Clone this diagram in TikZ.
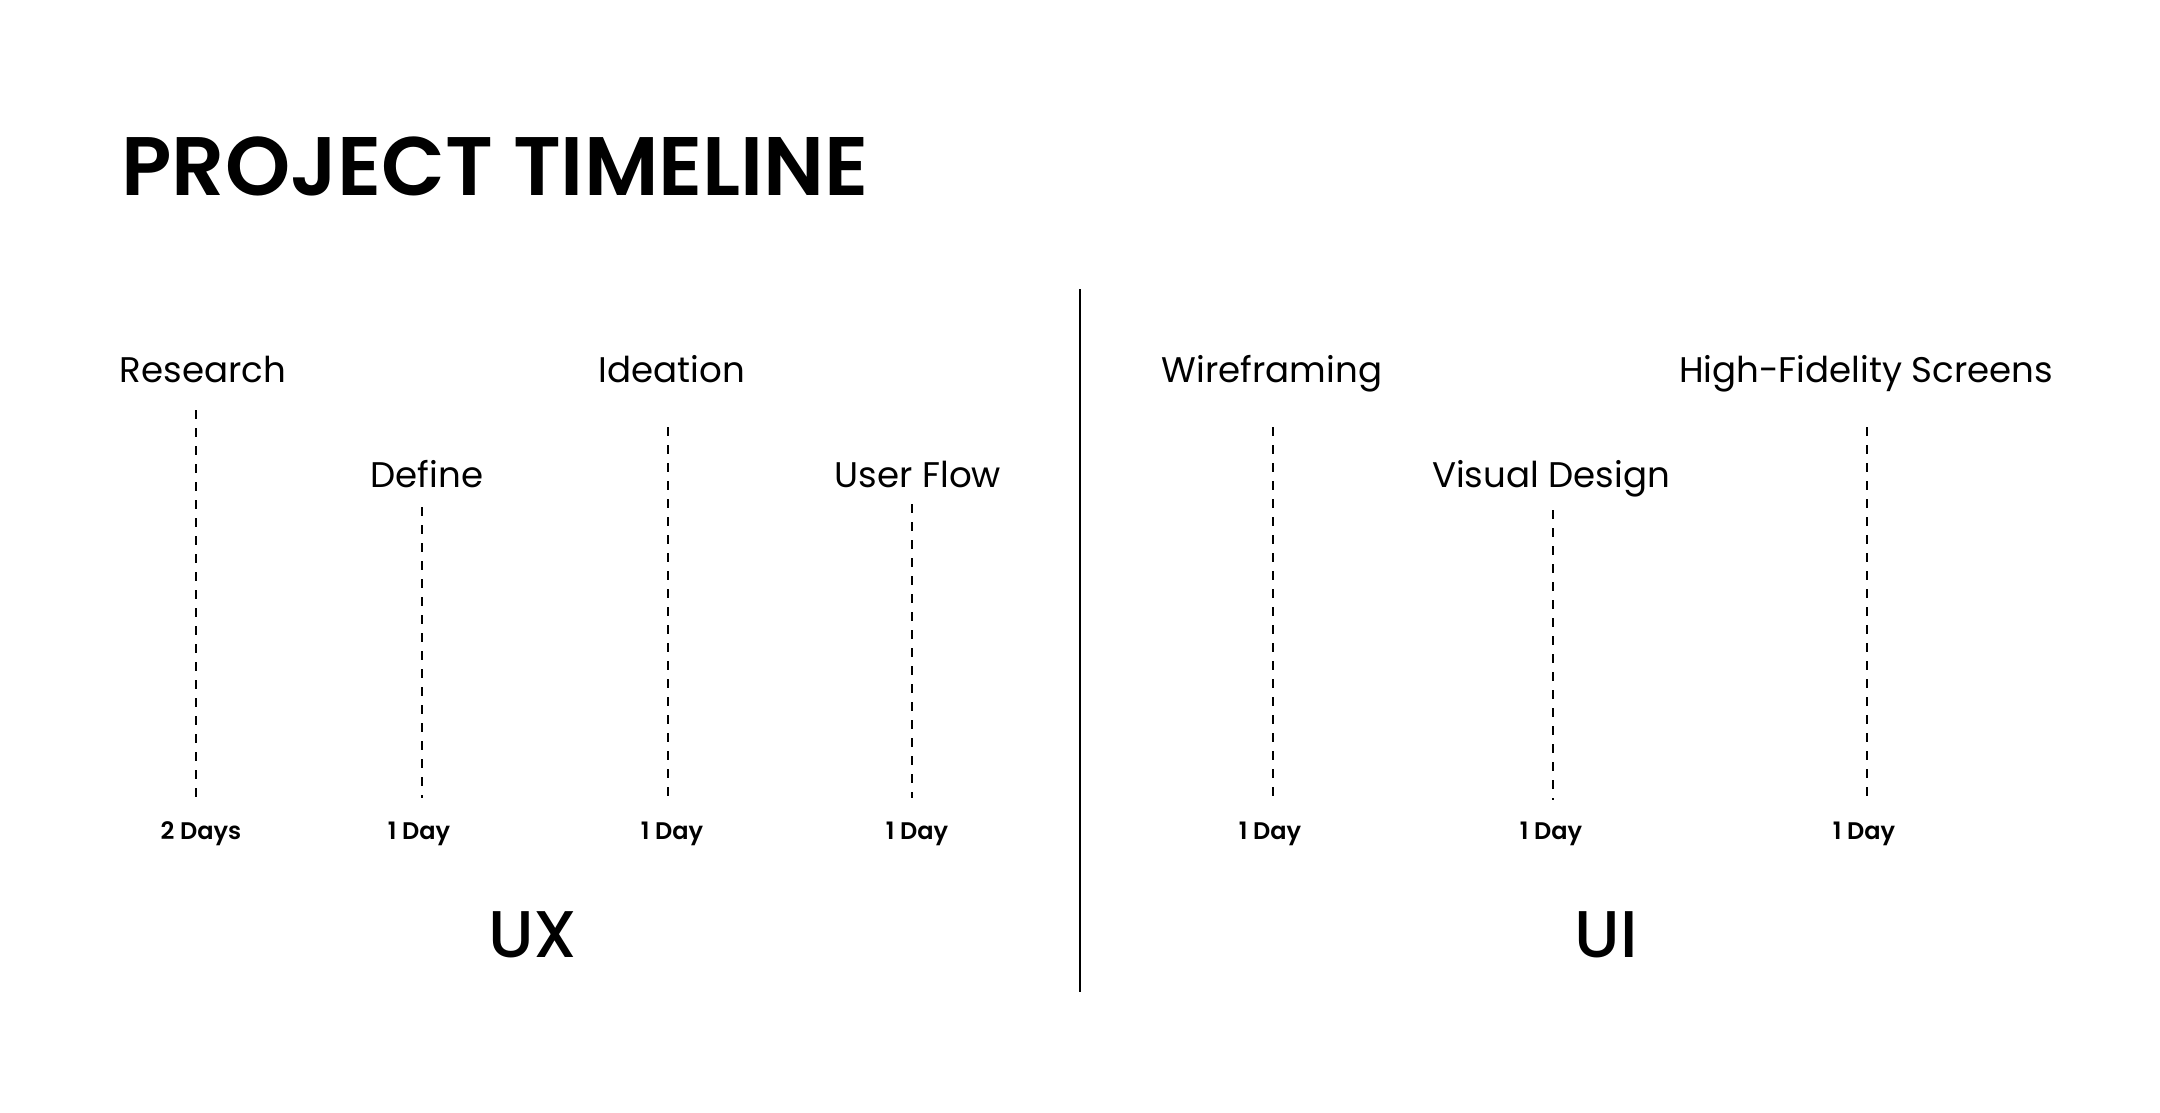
\documentclass[tikz,border=0pt]{standalone}
\usepackage{fontspec}
\setmainfont{Poppins}
\newfontfamily\psemi{Poppins}[UprightFont={* SemiBold}]
\newfontfamily\pmed{Poppins}[UprightFont={* Medium}]
\begin{document}
\begin{tikzpicture}[x=0.5pt,y=-0.5pt,
  titlestyle/.style={anchor=base west,inner sep=0pt,font=\psemi\fontsize{41.5}{41.5}\selectfont},
  phase/.style={anchor=base,inner sep=0pt,font=\fontsize{17.8}{17.8}\selectfont},
  dur/.style={anchor=base,inner sep=0pt,font=\psemi\fontsize{12}{12}\selectfont},
  group/.style={anchor=base,inner sep=0pt,font=\pmed\fontsize{33}{33}\selectfont},
  guide/.style={draw=black,line width=0.65pt,dash pattern=on 4.5pt off 4.5pt},
  divider/.style={draw=black,line width=0.8pt}]
\useasboundingbox (0,0) rectangle (2160,1113);
\fill[white] (0,0) rectangle (2160,1113);

\node[titlestyle] (title) at (121,196) {PROJECT TIMELINE};

% top-row labels
\node[phase] (research) at (203,382) {Research};
\node[phase] (ideation) at (672,382) {Ideation};
\node[phase] (wire) at (1272,382) {Wireframing};
\node[phase] (hifi) at (1866,382) {High-Fidelity Screens};
% second-row labels
\node[phase] (define) at (427,487) {Define};
\node[phase] (userflow) at (918,487) {User Flow};
\node[phase] (visual) at (1551,487) {Visual Design};

% durations
\node[dur] (d1) at (201,839) {2 Days};
\node[dur] (d2) at (419,839) {1 Day};
\node[dur] (d3) at (672,839) {1 Day};
\node[dur] (d4) at (917,839) {1 Day};
\node[dur] (d5) at (1270,839) {1 Day};
\node[dur] (d6) at (1551,839) {1 Day};
\node[dur] (d7) at (1864,839) {1 Day};

% group labels
\node[group] (ux) at (533,957) {UX};
\node[group] (ui) at (1606,957) {UI};

% guide line end points
\coordinate (t1) at (196,410); \coordinate (b1) at (196,798);
\coordinate (t2) at (422,507); \coordinate (b2) at (422,798);
\coordinate (t3) at (668,427); \coordinate (b3) at (668,798);
\coordinate (t4) at (912,504); \coordinate (b4) at (912,798);
\coordinate (t5) at (1273,427); \coordinate (b5) at (1273,800);
\coordinate (t6) at (1553,510); \coordinate (b6) at (1553,800);
\coordinate (t7) at (1867,427); \coordinate (b7) at (1867,800);
\foreach \i in {1,...,7} {\draw[guide] (t\i) -- (b\i);}

\coordinate (sepTop) at (1080,289);
\coordinate (sepBot) at (1080,992);
\draw[divider] (sepTop) -- (sepBot);
\end{tikzpicture}
\end{document}
